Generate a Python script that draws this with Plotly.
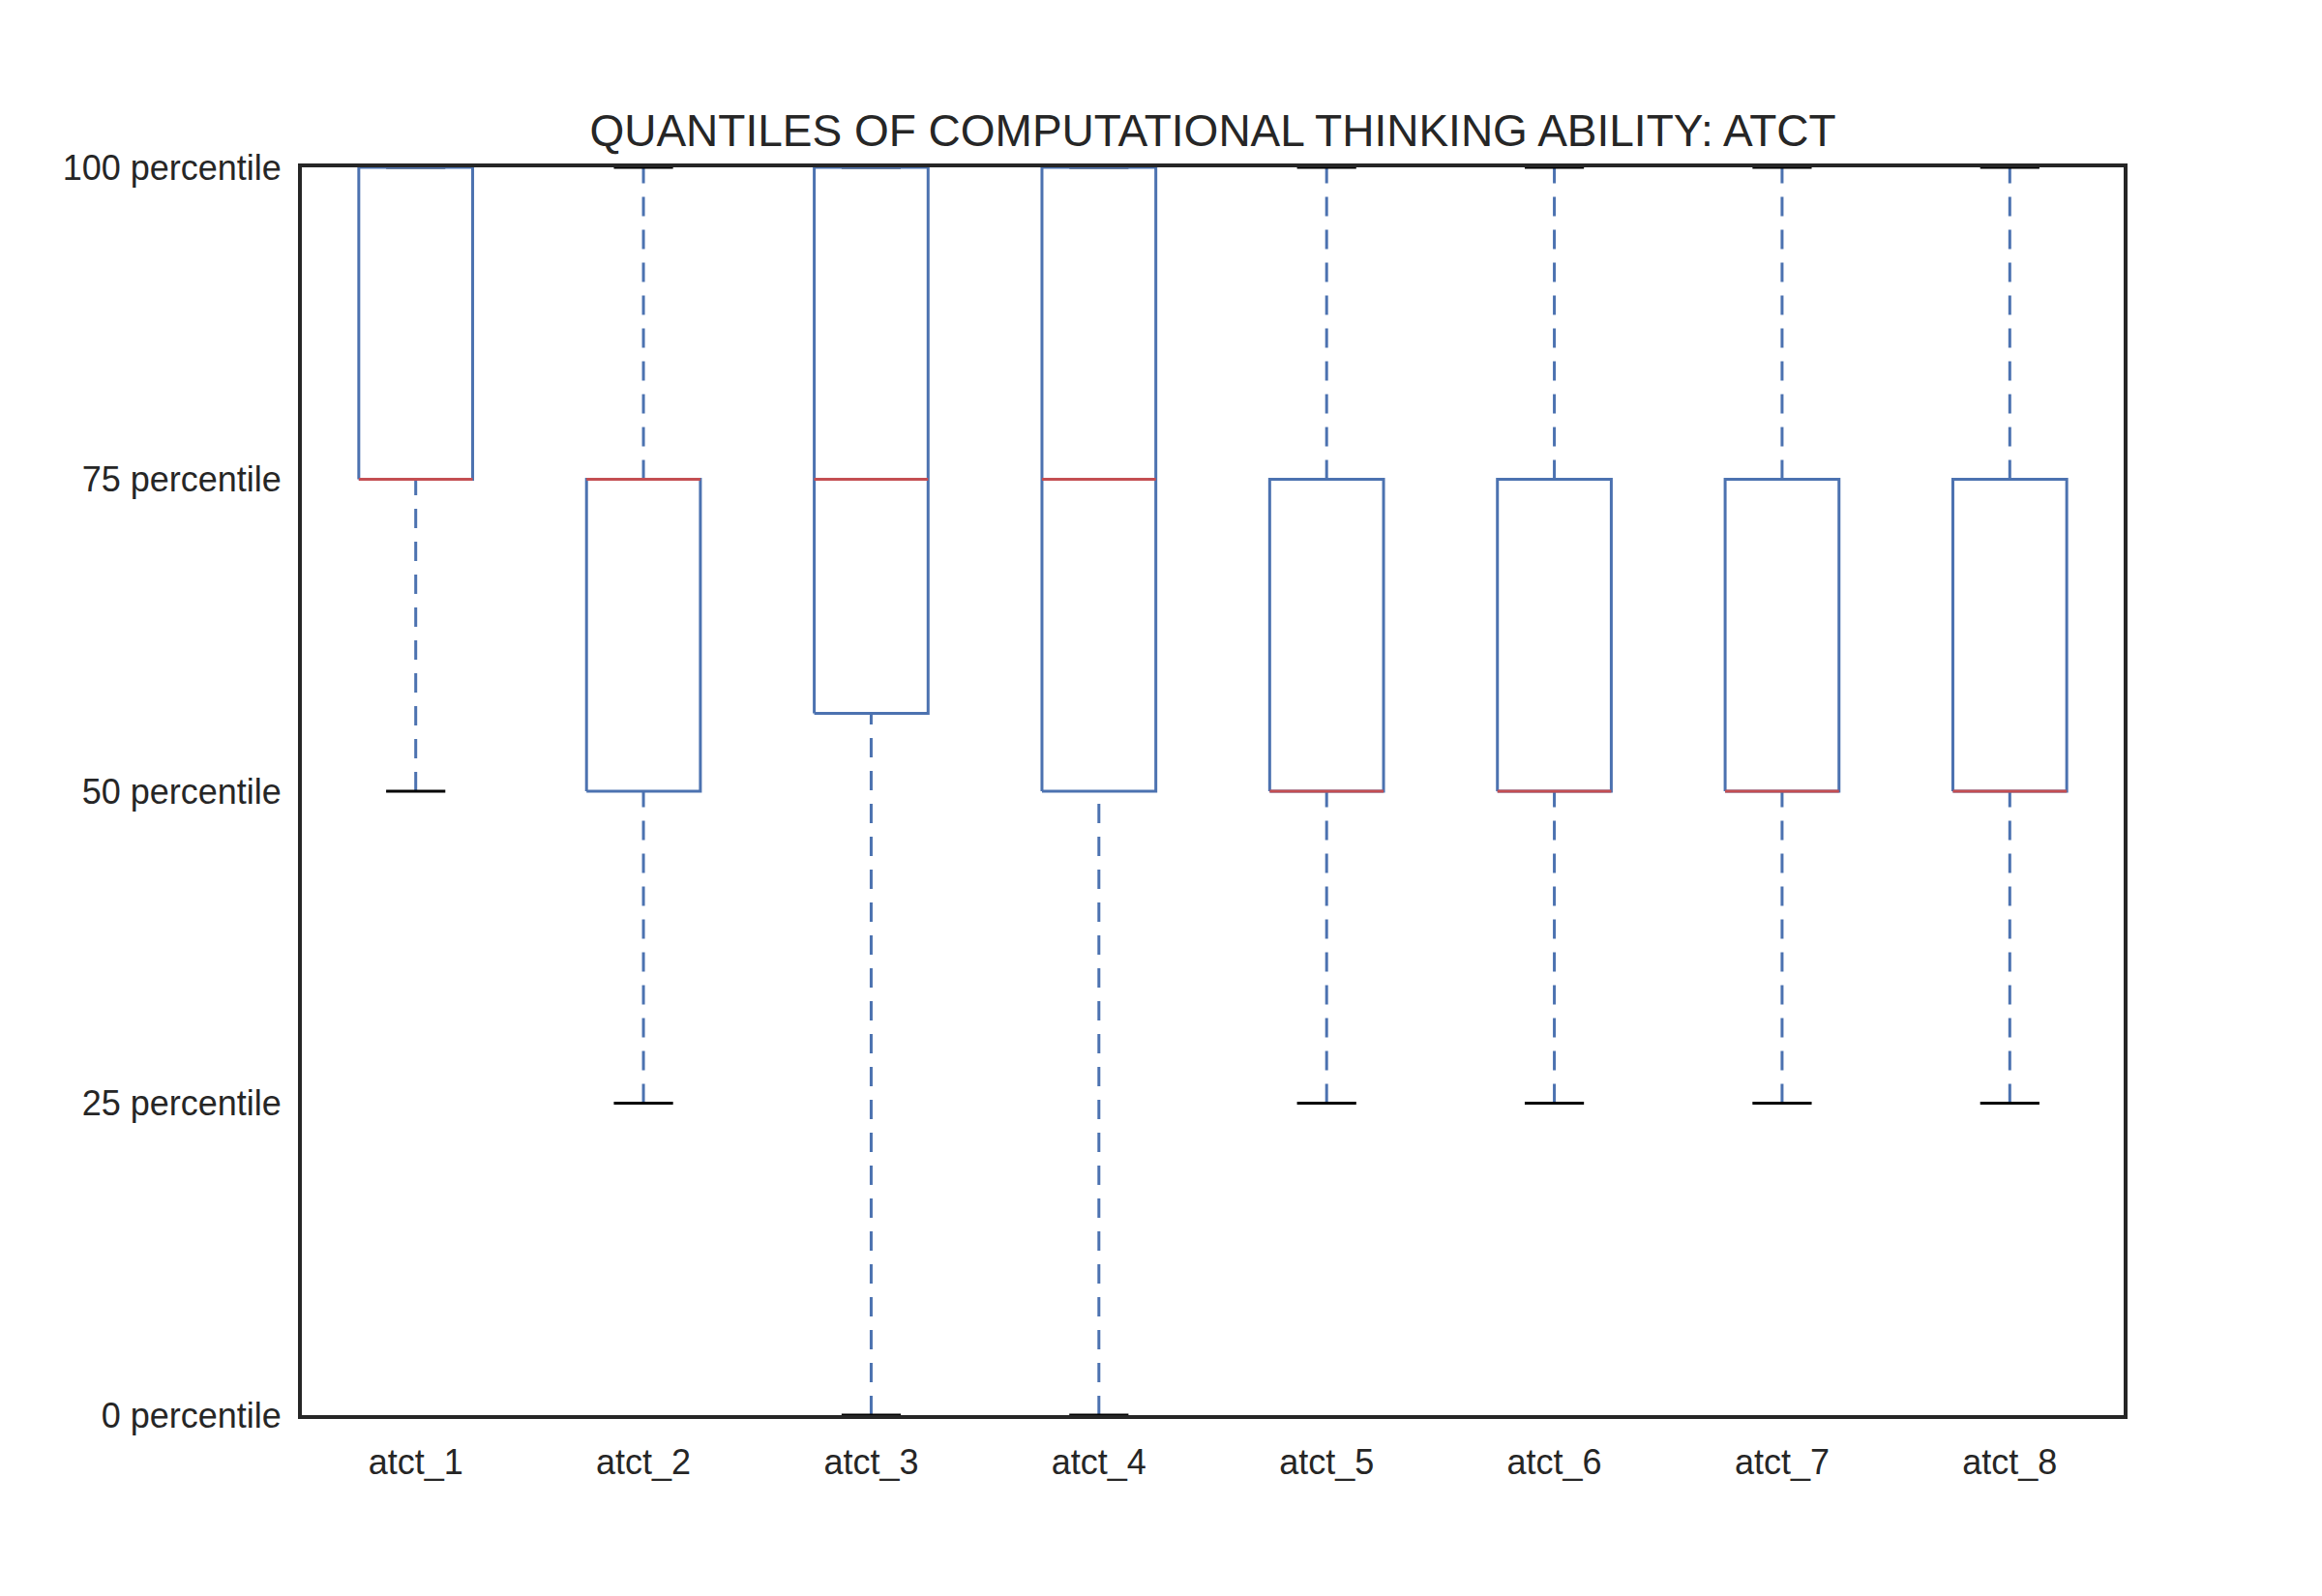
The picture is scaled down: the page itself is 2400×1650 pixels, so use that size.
import plotly.graph_objects as go

# quantile summaries per item (values in percentile)
items = ["atct_1", "atct_2", "atct_3", "atct_4", "atct_5", "atct_6", "atct_7", "atct_8"]
lower = [50, 25, 0, 0, 25, 25, 25, 25]
q1 = [75, 50, 56.25, 50, 50, 50, 50, 50]
median = [75, 75, 75, 75, 50, 50, 50, 50]
q3 = [100, 75, 100, 100, 75, 75, 75, 75]
upper = [100, 100, 100, 100, 100, 100, 100, 100]
tick_vals = [0, 25, 50, 75, 100]
tick_text = ["0 percentile", "25 percentile", "50 percentile", "75 percentile", "100 percentile"]

blue = "#4c72b0"
red = "#c44e52"
half_box = 0.25
half_cap = 0.13

box_x, box_y, med_x, med_y, wh_x, wh_y, cap_x, cap_y = [], [], [], [], [], [], [], []
for i in range(len(items)):
    p = i + 1
    box_x += [p - half_box, p + half_box, p + half_box, p - half_box, p - half_box, None]
    box_y += [q1[i], q1[i], q3[i], q3[i], q1[i], None]
    med_x += [p - half_box, p + half_box, None]
    med_y += [median[i], median[i], None]
    wh_x += [p, p, None, p, p, None]
    wh_y += [lower[i], q1[i], None, q3[i], upper[i], None]
    cap_x += [p - half_cap, p + half_cap, None, p - half_cap, p + half_cap, None]
    cap_y += [lower[i], lower[i], None, upper[i], upper[i], None]

fig = go.Figure()
fig.add_trace(go.Scatter(x=wh_x, y=wh_y, mode="lines",
                         line=dict(color=blue, width=3, dash="20px,14px")))
fig.add_trace(go.Scatter(x=cap_x, y=cap_y, mode="lines",
                         line=dict(color="black", width=3)))
fig.add_trace(go.Scatter(x=box_x, y=box_y, mode="lines",
                         line=dict(color=blue, width=3)))
fig.add_trace(go.Scatter(x=med_x, y=med_y, mode="lines",
                         line=dict(color=red, width=3)))

font = "Liberation Sans, Arial, sans-serif"
fig.update_layout(
    width=2400, height=1650,
    paper_bgcolor="white", plot_bgcolor="white",
    showlegend=False,
    margin=dict(l=304, r=213, t=165, b=195),
    font=dict(family=font, size=36, color="#262626"),
    title=dict(text="QUANTILES OF COMPUTATIONAL THINKING ABILITY: ATCT",
               x=0.5, xref="paper", xanchor="center",
               y=1 - 127 / 1650, yref="container", yanchor="middle",
               font=dict(size=46, color="#262626")),
    xaxis=dict(range=[0.5, 8.5], tickvals=list(range(1, 9)), ticktext=items,
               showgrid=False, zeroline=False, showline=True, mirror=True,
               linecolor="#262626", linewidth=4, ticks="", ticklabelstandoff=14),
    yaxis=dict(range=[0, 100], tickvals=tick_vals, ticktext=tick_text,
               showgrid=False, zeroline=False, showline=True, mirror=True,
               linecolor="#262626", linewidth=4, ticks="", ticklabelstandoff=10),
)

fig.write_html("out.html")
